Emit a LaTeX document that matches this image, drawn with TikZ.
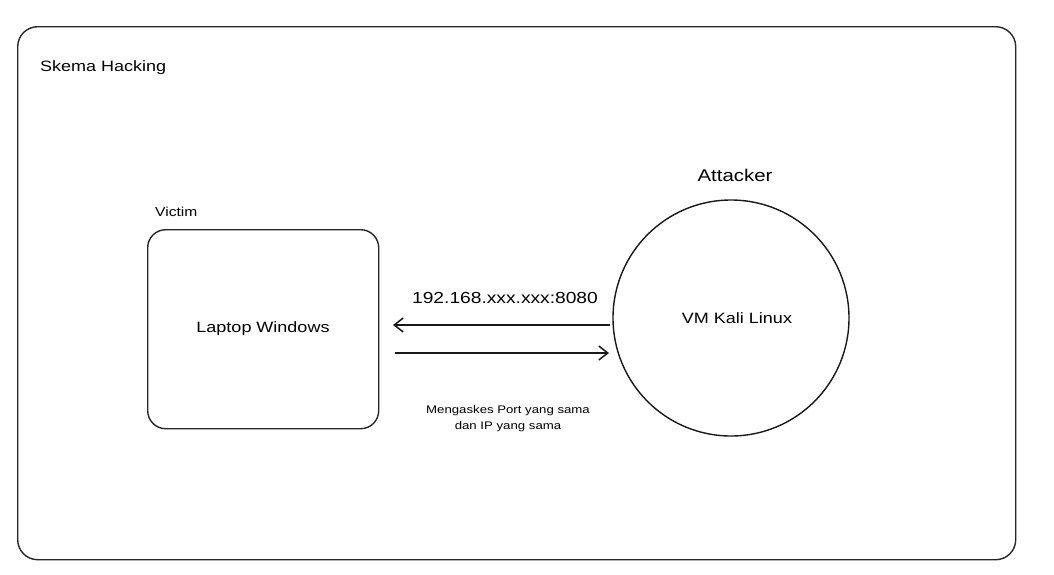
\documentclass[tikz,border=0pt]{standalone}
\usepackage{fontspec}
\setmainfont[FakeStretch=1.2]{Liberation Sans}
\usetikzlibrary{arrows.meta}
\begin{document}
\begin{tikzpicture}[x=1pt,y=-1pt,
  lbl/.style={inner sep=0pt,font=\fontsize{15}{17}\selectfont},
  small/.style={inner sep=0pt,align=center,font=\fontsize{11}{16}\selectfont},
  frame/.style={draw=black!85,line width=1.4pt,rounded corners=20pt},
  conn/.style={draw=black!90,line width=1.6pt,-{Straight Barb[length=9pt,width=14pt,line width=1.5pt]}}]
\useasboundingbox (0,0) rectangle (1054,574);
\node[frame,minimum width=998pt,minimum height=533pt,anchor=north west] (outer) at (17,26) {};
\node[lbl,anchor=west] (title) at (40,68) {Skema Hacking};
\node[frame,minimum width=231pt,minimum height=199pt,anchor=north west,rounded corners=18pt] (victim) at (147,229) {};
\node[lbl] (laptop) at (263,329) {Laptop Windows};
\node[lbl,anchor=west,font=\fontsize{13}{15}\selectfont] (victimlbl) at (155,212) {Victim};
\node[draw=black!90,line width=1.4pt,circle,minimum size=236pt,inner sep=0pt] (kali) at (731,318) {};
\node[lbl] (kalilbl) at (737,318) {VM Kali Linux};
\node[lbl,font=\fontsize{17}{19}\selectfont] (attacker) at (735,175) {Attacker};
\coordinate (a1s) at (610,325);
\coordinate (a1e) at (393,325);
\coordinate (a2s) at (395,353);
\coordinate (a2e) at (609,353);
\draw[conn] (a1s) -- (a1e);
\draw[conn] (a2s) -- (a2e);
\node[lbl,font=\fontsize{16}{18}\selectfont] (ip) at (505,298) {192.168.xxx.xxx:8080};
\node[small] (note) at (508,419) {Mengaskes Port yang sama\\dan IP yang sama};
\end{tikzpicture}
\end{document}
